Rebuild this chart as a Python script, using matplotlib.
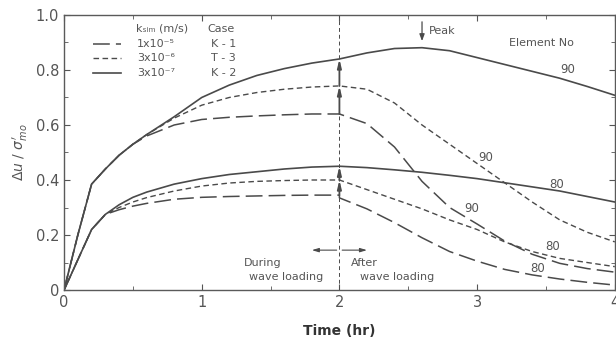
import matplotlib
matplotlib.use("Agg")
import matplotlib.pyplot as plt
import numpy as np
from matplotlib.ticker import MultipleLocator

# ---------------- data ----------------
t_during = [0, 0.1, 0.2, 0.3, 0.4, 0.5, 0.6, 0.8, 1.0, 1.2, 1.4, 1.6, 1.8, 2.0]
t_after = [2.0, 2.2, 2.4, 2.6, 2.8, 3.0, 3.2, 3.4, 3.6, 3.8, 4.0]

# Element 90
k2_90_during = [0, 0.2, 0.385, 0.44, 0.49, 0.53, 0.565, 0.63, 0.70, 0.745, 0.78, 0.805, 0.825, 0.84]
t3_90_during = [0, 0.2, 0.385, 0.44, 0.49, 0.53, 0.565, 0.625, 0.672, 0.70, 0.718, 0.73, 0.738, 0.742]
k1_90_during = [0, 0.2, 0.385, 0.44, 0.49, 0.53, 0.56, 0.60, 0.62, 0.628, 0.633, 0.637, 0.64, 0.64]
k2_90_after = [0.84, 0.862, 0.878, 0.881, 0.87, 0.845, 0.82, 0.795, 0.77, 0.74, 0.708]
t3_90_after = [0.742, 0.73, 0.68, 0.60, 0.53, 0.46, 0.39, 0.32, 0.255, 0.21, 0.175]
k1_90_after = [0.64, 0.605, 0.52, 0.395, 0.30, 0.24, 0.178, 0.13, 0.097, 0.078, 0.065]

# Element 80
k2_80_during = [0, 0.11, 0.22, 0.275, 0.31, 0.337, 0.356, 0.385, 0.405, 0.42, 0.43, 0.44, 0.447, 0.45]
t3_80_during = [0, 0.11, 0.22, 0.275, 0.30, 0.32, 0.336, 0.36, 0.378, 0.389, 0.395, 0.398, 0.40, 0.40]
k1_80_during = [0, 0.11, 0.22, 0.275, 0.292, 0.305, 0.315, 0.33, 0.337, 0.34, 0.342, 0.344, 0.345, 0.345]
k2_80_after = [0.45, 0.445, 0.437, 0.428, 0.417, 0.405, 0.39, 0.375, 0.36, 0.34, 0.32]
t3_80_after = [0.40, 0.365, 0.33, 0.295, 0.255, 0.22, 0.175, 0.14, 0.115, 0.10, 0.085]
k1_80_after = [0.335, 0.295, 0.245, 0.19, 0.14, 0.105, 0.075, 0.055, 0.04, 0.028, 0.018]

legend_k = ["1x10\u207b\u2075", "3x10\u207b\u2076", "3x10\u207b\u2077"]
legend_case = ["K - 1", "T - 3", "K - 2"]

x_ticks = [0, 1, 2, 3, 4]
y_ticks = [0, 0.2, 0.4, 0.6, 0.8, 1.0]
y_ticklabels = ["0", "0.2", "0.4", "0.6", "0.8", "1.0"]

# ---------------- styling ----------------
LC = "#4a4a4a"
TC = "#555555"
styles = {
    "K-1": dict(color=LC, lw=1.1, dashes=(11, 4)),
    "T-3": dict(color=LC, lw=1.0, dashes=(4, 2.5)),
    "K-2": dict(color=LC, lw=1.2, linestyle="-"),
}

fig = plt.figure(figsize=(6.16, 3.40), dpi=100)
ax = fig.add_axes([0.104, 0.147, 0.894, 0.809])

series = [
    ("K-2", k2_90_during, k2_90_after),
    ("T-3", t3_90_during, t3_90_after),
    ("K-1", k1_90_during, k1_90_after),
    ("K-2", k2_80_during, k2_80_after),
    ("T-3", t3_80_during, t3_80_after),
    ("K-1", k1_80_during, k1_80_after),
]
for case, dur, aft in series:
    ax.plot(list(t_during) + list(t_after), list(dur) + list(aft), **styles[case])

# vertical dashed line at end of wave loading
ax.axvline(2.0, color=LC, lw=0.7, dashes=(4, 3))

# vertical step arrows at t=2
for lo, hi in [(k1_80_during[-1], t3_80_during[-1]), (t3_80_during[-1], k2_80_during[-1]),
               (k1_90_during[-1], t3_90_during[-1]), (t3_90_during[-1], k2_90_during[-1])]:
    ax.annotate("", xy=(2.0, hi), xytext=(2.0, lo),
                arrowprops=dict(arrowstyle="-|>,head_length=0.5,head_width=0.12",
                                color=LC, lw=1.3, shrinkA=0, shrinkB=0))

ax.set_xlim(0, 4)
ax.set_ylim(0, 1.0)
ax.set_xticks(x_ticks)
ax.set_yticks(y_ticks)
ax.set_yticklabels(y_ticklabels)
ax.xaxis.set_minor_locator(MultipleLocator(0.5))
ax.yaxis.set_minor_locator(MultipleLocator(0.1))
ax.tick_params(which="both", direction="in", top=True, right=True, color=TC,
               labelcolor=TC, labelsize=10.5)
ax.tick_params(which="major", length=4)
ax.tick_params(which="minor", length=3)
for s in ax.spines.values():
    s.set_color("#5a5a5a")
    s.set_linewidth(1.0)

ax.set_xlabel("Time (hr)", fontsize=10, fontweight="bold", color="#333333", labelpad=10)
ax.set_ylabel(r"$\Delta u\ /\ \sigma^{\prime}_{mo}$", fontsize=10, color=TC, labelpad=4)

# legend drawn manually
fs = 8
ax.text(0.52, 0.950, "k\u209b\u1d62\u2098 (m/s)", fontsize=fs, color=TC, va="center", ha="left")
ax.text(1.04, 0.950, "Case", fontsize=fs, color=TC, va="center", ha="left")
rows_y = [0.895, 0.842, 0.789]
for yy, case, kl, cl in zip(rows_y, ["K-1", "T-3", "K-2"], legend_k, legend_case):
    ax.plot([0.21, 0.41], [yy, yy], **styles[case])
    ax.text(0.53, yy, kl, fontsize=fs, color=TC, va="center", ha="left")
    ax.text(1.07, yy, cl, fontsize=fs, color=TC, va="center", ha="left")

# annotations
ax.annotate("", xy=(2.6, 0.905), xytext=(2.6, 0.975),
            arrowprops=dict(arrowstyle="-|>,head_length=0.4,head_width=0.15",
                            color=LC, lw=0.9, shrinkA=0, shrinkB=0))
ax.text(2.65, 0.943, "Peak", fontsize=8, color=TC, va="center", ha="left")
ax.text(3.47, 0.898, "Element No", fontsize=8, color=TC, va="center", ha="center")

labels = [(3.66, 0.80, "90"), (3.06, 0.48, "90"), (2.96, 0.298, "90"),
          (3.58, 0.385, "80"), (3.55, 0.157, "80"), (3.44, 0.08, "80")]
for x, y, s in labels:
    ax.text(x, y, s, fontsize=8.5, color=TC, va="center", ha="center")

ax.text(1.58, 0.10, "During", fontsize=8, color=TC, va="center", ha="right")
ax.text(1.88, 0.046, "wave loading", fontsize=8, color=TC, va="center", ha="right")
ax.text(2.08, 0.10, "After", fontsize=8, color=TC, va="center", ha="left")
ax.text(2.15, 0.046, "wave loading", fontsize=8, color=TC, va="center", ha="left")
ax.annotate("", xy=(1.8, 0.145), xytext=(1.98, 0.145),
            arrowprops=dict(arrowstyle="-|>,head_length=0.4,head_width=0.12",
                            color=LC, lw=0.8, shrinkA=0, shrinkB=0))
ax.annotate("", xy=(2.2, 0.145), xytext=(2.02, 0.145),
            arrowprops=dict(arrowstyle="-|>,head_length=0.4,head_width=0.12",
                            color=LC, lw=0.8, shrinkA=0, shrinkB=0))

fig.savefig("out.png", dpi=100, facecolor="white")
